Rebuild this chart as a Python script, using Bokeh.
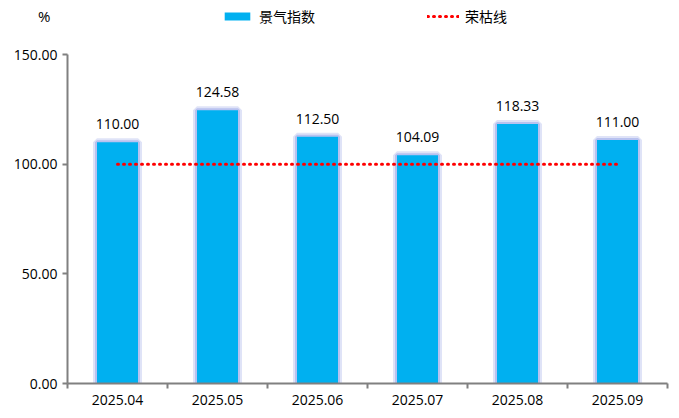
from bokeh.plotting import figure
from bokeh.layouts import column
from bokeh.models import (ColumnDataSource, FixedTicker, Legend, LegendItem,
                          Range1d, CustomJSTickFormatter, NumeralTickFormatter)
from bokeh.embed import file_html
from bokeh.resources import INLINE
from bokeh.core.properties import value

categories = ["2025.04", "2025.05", "2025.06", "2025.07", "2025.08", "2025.09"]
index_values = [110.00, 124.58, 112.50, 104.09, 118.33, 111.00]
threshold = 100.0
y_ticks = [0, 50, 100, 150]
series_names = ["景气指数", "荣枯线"]
unit_label = "%"

FONT = "Open Sans"
CJK = "Noto Sans CJK SC"
BAR_COLOR = "#00b0f0"
LINE_COLOR = "#ff0000"
n = len(categories)
xs = [i + 0.5 for i in range(n)]

W = 675
HEAD_H = 44

src = ColumnDataSource(dict(x=xs, top=index_values,
                            lbl=["%.2f" % v for v in index_values]))

# ---------- header (unit label + legend) ----------
head = figure(width=W, height=HEAD_H, output_backend="svg", toolbar_location=None,
              x_range=Range1d(0, n), y_range=Range1d(0, 1),
              x_axis_location=None, y_axis_location="left",
              min_border_left=67, min_border_right=8, min_border_top=0,
              min_border_bottom=14)
head.grid.visible = False
head.outline_line_color = None
hy = head.yaxis[0]
hy.ticker = FixedTicker(ticks=[])
hy.axis_line_color = None
hy.major_tick_line_color = None
hy.minor_tick_line_color = None
hy.axis_label = unit_label
hy.axis_label_orientation = "horizontal"
hy.axis_label_standoff = 17
hy.axis_label_text_font = FONT
hy.axis_label_text_font_size = "15px"
hy.axis_label_text_font_style = "normal"
hy.axis_label_text_color = "#000000"

# legend proxies (zero-width bars / off-frame line: nothing visible in header)
proxy_bar = head.vbar(x="x", top="top", width=0, source=src, fill_color=BAR_COLOR,
                      line_color=None)
proxy_line = head.line(x=[xs[0], xs[-1]], y=[threshold, threshold],
                       line_color=LINE_COLOR, line_width=3,
                       line_dash="1 5", line_cap="round")
legend = Legend(items=[LegendItem(label=series_names[0], renderers=[proxy_bar]),
                       LegendItem(label=series_names[1], renderers=[proxy_line])],
                orientation="horizontal", location=(154, 4),
                glyph_width=32, glyph_height=10, label_standoff=6, spacing=112,
                label_text_font=CJK, label_text_font_size="14px",
                label_text_color="#000000", border_line_color=None,
                background_fill_alpha=0, padding=0, margin=0)
head.add_layout(legend, "center")

# ---------- main chart ----------
p = figure(width=W, height=414 - HEAD_H, output_backend="svg", toolbar_location=None,
           x_range=Range1d(0, n), y_range=Range1d(0, 150),
           min_border_left=67, min_border_right=8, min_border_top=54 - HEAD_H,
           min_border_bottom=31)
p.outline_line_color = None
p.grid.visible = False

# glow behind bars
p.vbar(x="x", top="top", width=0.41, source=src, fill_color=None,
       line_color="#7f8fe0", line_alpha=0.25, line_width=8)
p.vbar(x="x", top="top", width=0.41, source=src, fill_color=None,
       line_color="#8a9ae6", line_alpha=0.45, line_width=4)
p.vbar(x="x", top="top", width=0.41, source=src, fill_color=BAR_COLOR,
       line_color=None)

p.line(x=[xs[0], xs[-1]], y=[threshold, threshold], line_color=LINE_COLOR,
       line_width=3, line_dash="1 5", line_cap="round")

p.text(x="x", y="top", text="lbl", source=src, text_align="center",
       text_baseline="bottom", y_offset=-13, text_font=value(FONT),
       text_font_size="14px", text_color="#000000")

for ax in (p.xaxis[0], p.yaxis[0]):
    ax.axis_line_color = "#808080"
    ax.axis_line_width = 2
    ax.major_tick_line_color = "#808080"
    ax.major_tick_line_width = 2
    ax.minor_tick_line_color = "#808080"
    ax.minor_tick_line_width = 2
    ax.major_label_text_font = FONT
    ax.major_label_text_font_size = "14px"
    ax.major_label_text_color = "#000000"

p.yaxis.ticker = FixedTicker(ticks=y_ticks)
p.yaxis.formatter = NumeralTickFormatter(format="0.00")
p.yaxis.major_tick_in = 0
p.yaxis.major_tick_out = 5
p.yaxis.minor_tick_out = 0
p.yaxis.minor_tick_in = 0
p.yaxis.major_label_standoff = 5

p.xaxis.ticker = FixedTicker(ticks=xs, minor_ticks=list(range(n + 1)))
p.xaxis.major_tick_in = 0
p.xaxis.major_tick_out = 0
p.xaxis.minor_tick_in = 0
p.xaxis.minor_tick_out = 5
p.xaxis.major_label_standoff = 6
p.xaxis.formatter = CustomJSTickFormatter(args=dict(cats=categories),
                                          code="return cats[Math.floor(tick)];")

layout = column(head, p, spacing=0)
open("out.html", "w").write(file_html(layout, INLINE))
